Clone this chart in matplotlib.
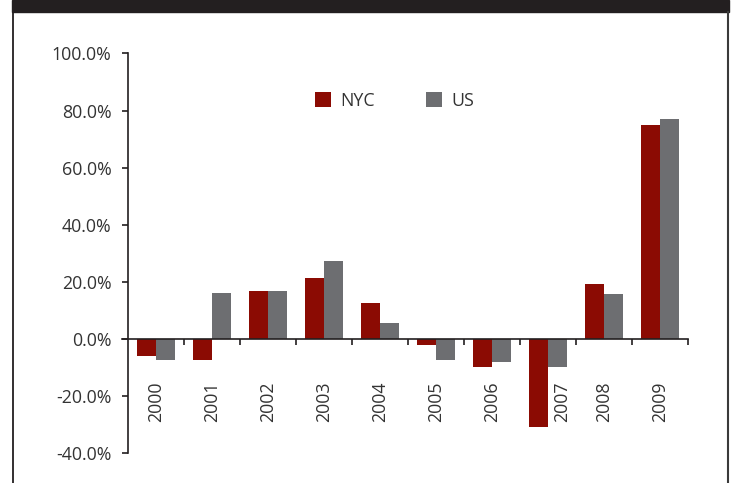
import matplotlib.pyplot as plt
import matplotlib.transforms as mtransforms
from matplotlib.patches import Rectangle
from matplotlib.lines import Line2D
import numpy as np

years = ["2000", "2001", "2002", "2003", "2004", "2005", "2006", "2007", "2008", "2009"]
nyc = [-6.0, -7.4, 16.8, 21.1, 12.6, -2.1, -9.9, -31.1, 19.0, 74.8]
us = [-7.4, 16.1, 16.8, 27.1, 5.5, -7.4, -8.1, -9.9, 15.8, 76.9]

plt.rcParams['font.family'] = ['Open Sans', 'DejaVu Sans']
text_color = "#333333"
axis_color = "#231f20"
fs = 12.8

W, H = 731, 483
fig = plt.figure(figsize=(W / 100, H / 100), dpi=100)
ax = fig.add_axes([128 / W, 1 - 452.7 / H, 560 / W, (452.7 - 53.5) / H])

x = np.arange(len(years))
bw = 0.34
ax.bar(x - bw / 2, nyc, bw, color="#8b0b03", label="NYC", zorder=2)
ax.bar(x + bw / 2, us, bw, color="#6d6e71", label="US", zorder=2)

ax.set_xlim(-0.5, 9.5)
ax.set_ylim(-40, 100)
ax.set_yticks(np.arange(-40, 101, 20))
ax.set_yticklabels([f"{v:.1f}%" for v in np.arange(-40, 101, 20)])

for s in ["top", "right"]:
    ax.spines[s].set_visible(False)
ax.spines["bottom"].set_position(("data", 0))
ax.spines["bottom"].set_bounds(-0.6, 9.5)
for s in ["left", "bottom"]:
    ax.spines[s].set_color(axis_color)
    ax.spines[s].set_linewidth(1.2)
ax.spines["bottom"].set_zorder(3)

ax.set_xticks(x)
ax.set_xticklabels(years, rotation=90, va="top", ha="center")
ax.set_xticks(np.arange(0.5, 10, 1), minor=True)
ax.tick_params(axis="x", which="major", length=0, pad=31, labelsize=fs, colors=text_color)
ax.tick_params(axis="x", which="minor", length=4.5, width=1.2, direction="out", color=axis_color)
ax.tick_params(axis="y", length=4, width=1.2, pad=8, labelsize=fs, colors=text_color, color=axis_color)

# 2007 label sits to the right of the deep bar
lab = ax.get_xticklabels()[7]
lab.set_transform(lab.get_transform() + mtransforms.ScaledTranslation(0.14, 0, fig.dpi_scale_trans))

leg = ax.legend(loc="center left", bbox_to_anchor=(315 / W, 1 - 101 / H),
                bbox_transform=fig.transFigure, ncol=2, frameon=False,
                fontsize=fs, handlelength=0.9, handleheight=0.9,
                handletextpad=0.5, columnspacing=2.9, borderpad=0, borderaxespad=0)
for t in leg.get_texts():
    t.set_color(text_color)

# frame around the chart
fig.patches.append(Rectangle((12 / W, 1 - 12 / H), (729 - 12) / W, 12 / H,
                             transform=fig.transFigure, color="#231f20", zorder=0))
fig.lines.append(Line2D([12.8 / W, 12.8 / W], [0, 1 - 12 / H], transform=fig.transFigure,
                        color="#231f20", lw=1.3))
fig.lines.append(Line2D([727.8 / W, 727.8 / W], [0, 1 - 12 / H], transform=fig.transFigure,
                        color="#3a3a3a", lw=1.5))

fig.savefig("out.png", dpi=100)
